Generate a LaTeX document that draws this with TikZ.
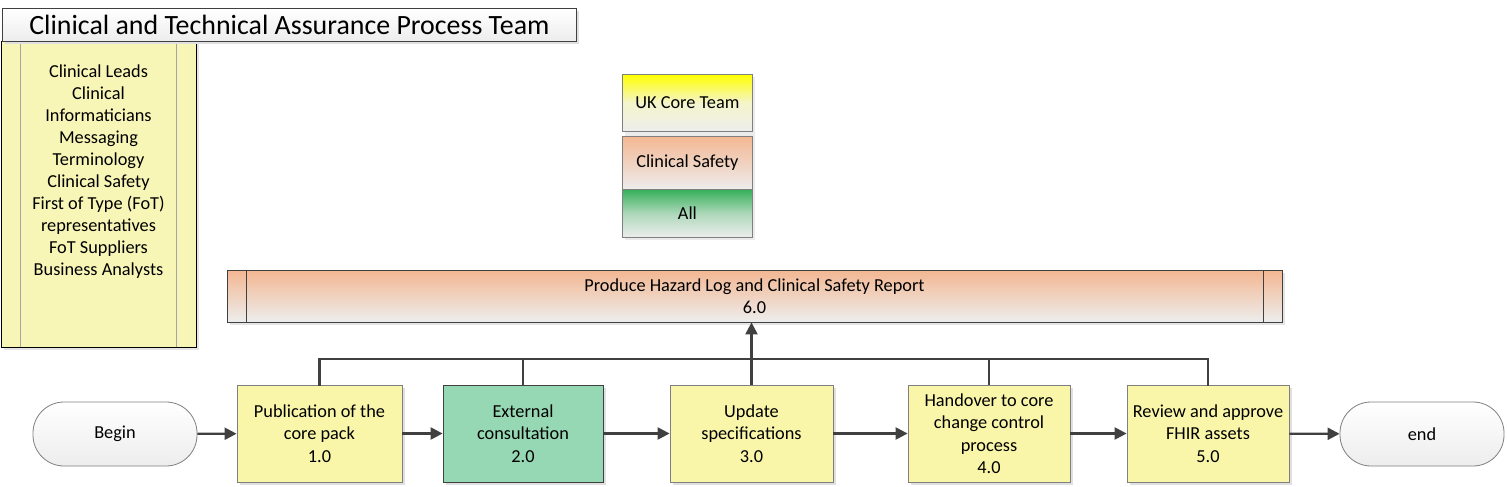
\documentclass[tikz,border=0pt]{standalone}
\usepackage{fontspec}
\setmainfont{Carlito}
\usetikzlibrary{arrows.meta,calc}
\definecolor{procyellow}{HTML}{F9F6A9}
\definecolor{lanyellow}{HTML}{F8F6B6}
\definecolor{procgreen}{HTML}{97D8B4}
\definecolor{lineg}{HTML}{404040}
\definecolor{bordg}{HTML}{7F7F7F}
\definecolor{orangetop}{HTML}{F3B792}
\definecolor{greentop}{HTML}{36B05A}
\definecolor{graybot}{HTML}{EDEDED}
\tikzset{
  procbox/.style={draw=bordg, line width=0.8pt, minimum height=97pt, align=center, font=\fontsize{18.3}{22.5}\selectfont, inner sep=1pt},
  terminal/.style={draw=bordg, line width=0.8pt, rounded corners=31pt, minimum width=164pt, minimum height=64pt, top color=white, bottom color=graybot, font=\fontsize{18.3}{22.5}\selectfont},
  conn/.style={draw=lineg, line width=2.3pt},
  arr/.style={conn, -{Triangle[length=12pt,width=12pt]}},
  shadowed/.style={preaction={fill=black!12, transform canvas={xshift=3pt,yshift=-3pt}}},
  legbox/.style={draw=bordg, line width=0.8pt, minimum width=130pt, font=\fontsize{18.3}{22}\selectfont},
}
\begin{document}
\begin{tikzpicture}[x=1pt,y=-1pt]
\useasboundingbox (0,0) rectangle (1507,487);
% lane
\fill[black!10] (4,44) rectangle (199,350);
\node[draw=black, line width=0.8pt, fill=lanyellow, minimum width=195pt, minimum height=306pt, anchor=north west, inner sep=0pt] (lane) at (1,41) {};
\draw[bordg!70, line width=0.6pt] (20,41) -- (20,347) (176,41) -- (176,347);
\node[align=center, anchor=north, font=\fontsize{18.3}{22}\selectfont] (lanetxt) at (98.5,61) {Clinical Leads\\Clinical\\Informaticians\\Messaging\\Terminology\\Clinical Safety\\First of Type (FoT)\\representatives\\FoT Suppliers\\Business Analysts};
% title
\fill[black!12] (5,11) rectangle (579,44);
\node[draw=lineg, line width=0.8pt, top color=white, bottom color=graybot, minimum width=574pt, minimum height=33pt, anchor=north west, inner sep=0pt, font=\fontsize{27.9}{30}\selectfont] (title) at (2,8) {Clinical and Technical Assurance Process Team};
% legend
\fill[black!8] (625,77) rectangle (755,240);
\node[legbox, minimum height=57pt, top color=yellow, bottom color=graybot, middle color=white!60!yellow!40!graybot, anchor=north west] (leg1) at (622,74) {UK Core Team};
\node[legbox, minimum height=53pt, top color=orangetop, bottom color=graybot, anchor=north west] (leg2) at (622,136) {Clinical Safety};
\node[legbox, minimum height=48pt, top color=greentop, bottom color=graybot, middle color=greentop!35!graybot, anchor=north west] (leg3) at (622,189) {All};
% hazard box
\fill[black!10] (230,273) rectangle (1285,325);
\node[draw=lineg, line width=0.8pt, top color=orangetop, bottom color=graybot, minimum width=1055pt, minimum height=52pt, inner sep=0pt] (haz) at (754.5,296) {};
\draw[lineg, line width=0.6pt] (246,270) -- (246,322) (1263,270) -- (1263,322);
\node[align=center, font=\fontsize{18.3}{22}\selectfont] (haztxt) at (754.5,296) {Produce Hazard Log and Clinical Safety Report\\6.0};
% terminals
\node[terminal] (begin) at (115,434) {Begin};
\node[terminal] (end) at (1422,434) {end};
% process boxes
\node[procbox, shadowed, fill=procyellow, minimum width=165pt] (b1) at (319.5,433.5) {Publication of the\\core pack\\1.0};
\node[procbox, shadowed, fill=procgreen, draw=lineg, minimum width=160pt] (b2) at (523,433.5) {External\\consultation\\2.0};
\node[procbox, shadowed, fill=procyellow, minimum width=163pt] (b3) at (751.5,433.5) {Update\\specifications\\3.0};
\node[procbox, shadowed, fill=procyellow, minimum width=162pt] (b4) at (989,433.5) {Handover to core\\change control\\process\\4.0};
\node[procbox, shadowed, fill=procyellow, minimum width=162pt] (b5) at (1208,433.5) {Review and approve\\FHIR assets\\5.0};
% flow arrows
\draw[arr] (begin) -- (b1);
\draw[arr] (b1) -- (b2);
\draw[arr] (b2) -- (b3);
\draw[arr] (b3) -- (b4);
\draw[arr] (b4) -- (b5);
\draw[arr] (b5) -- (end);
% bus
\coordinate (bus) at (0,359);
\draw[conn, line cap=rect] (b1.north) -- (b1.north |- bus) -- (b5.north |- bus) -- (b5.north);
\draw[conn] (b2.north) -- (b2.north |- bus);
\draw[conn] (b3.north) -- (b3.north |- bus);
\draw[conn] (b4.north) -- (b4.north |- bus);
\draw[arr] (b3.north |- bus) -- (b3.north |- haz.south);
\end{tikzpicture}
\end{document}
